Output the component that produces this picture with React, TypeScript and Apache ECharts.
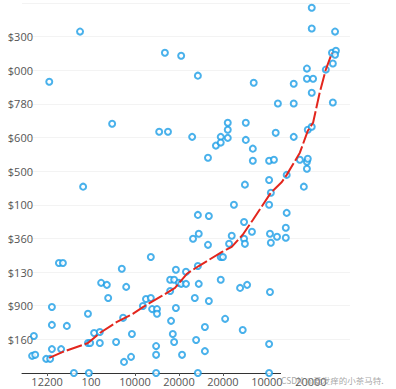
import React, { useEffect, useRef } from "react";
import * as echarts from "echarts";

const xTickLabels = ["12200", "100", "10000", "20000", "20000", "10000", "20000"];
const yTickLabels = ["", "$160", "$900", "$130", "$360", "$100", "$500", "$600", "$780", "$000", "$300", ""];

const pointsX = [
  0.75, 0.05, 2.68, 3.05, 3.43, 1.48, 2.55, 2.75, 3.3, 0.82,
  6.02, 6.02, 6.55, 6.48, 6.57, 6.55, 5.91, 6.34, 6.5, 4.7,
  5.61, 5.91, 6.05, 6.02, 5.25, 5.61, 6.5, 4.11, 4.52, 4.11,
  3.95, 4.11, 3.84, 3.95, 4.52, 5.2, 5.61, 5.93, 6.02, 3.66,
  4.68, 4.68, 5.05, 5.16, 5.75, 5.91, 5.93, 5.91, 4.5, 5.05,
  5.84, 5.45, 5.09, 3.43, 3.45, 3.32, 2.36, 0.27, 0.36, 1.7,
  2.93, 3.16, 3.43, 2.8, 2.89, 3.0, 3.05, 3.16, 3.45, 1.23,
  1.36, 1.8, 2.8, 1.39, 2.25, 2.36, 3.36, 2.18, 0.11, 2.39,
  2.5, 2.93, 2.5, 0.93, 1.73, 0.11, 0.45, 2.82, 1.07, 1.2,
  1.93, -0.3, 2.86, 2.89, 3.39, 1.57, 0.93, 0.98, 1.2, 0.11,
  0.32, 2.48, -0.34, -0.27, 2.48, 3.07, 1.91, -0.02, 0.07, 1.75,
  0.61, 0.95, 2.48, 3.43, 4.25, 5.05, 5.45, 3.68, 4.48, 3.66,
  4.2, 4.48, 4.5, 4.66, 5.07, 5.09, 5.23, 5.43, 5.43, 4.14,
  3.95, 4.0, 3.95, 4.39, 4.55, 5.07, 3.68, 4.05, 3.59, 4.45,
  5.05, 3.59, 5.05
];
const pointsY = [
  10.15, 8.66, 9.52, 9.43, 8.84, 7.41, 7.17, 7.17, 7.02, 5.54,
  10.86, 10.24, 10.15, 9.52, 9.58, 9.46, 9.05, 9.02, 9.2, 8.63,
  8.6, 8.75, 8.75, 8.33, 8.01, 8.01, 8.04, 7.44, 7.44, 7.23,
  7.02, 6.99, 6.76, 6.85, 6.93, 7.14, 7.02, 7.23, 7.32, 6.4,
  6.67, 6.31, 6.31, 6.34, 6.34, 6.28, 6.37, 6.07, 5.6, 5.74,
  5.54, 5.89, 5.36, 4.7, 4.14, 3.99, 3.45, 3.27, 3.27, 3.1,
  3.07, 3.01, 3.18, 2.77, 2.77, 2.68, 2.65, 2.65, 2.65, 2.68,
  2.62, 2.56, 2.44, 2.23, 2.2, 2.23, 2.23, 1.99, 1.96, 1.9,
  1.9, 1.93, 1.76, 1.76, 1.64, 1.43, 1.4, 1.55, 1.19, 1.22,
  1.16, 1.1, 1.16, 0.92, 0.98, 0.92, 0.89, 0.89, 0.89, 0.71,
  0.71, 0.8, 0.51, 0.54, 0.54, 0.54, 0.48, 0.42, 0.42, 0.33,
  0, 0, 0, 0, 5.0, 5.0, 4.76, 4.67, 4.49, 3.81,
  4.08, 3.99, 3.84, 4.2, 4.14, 3.87, 4.05, 4.32, 4.02, 3.84,
  3.45, 3.45, 2.77, 2.53, 2.62, 2.41, 2.14, 1.61, 1.37, 1.28,
  0.86, 0.65, 0
];

const trendX = [0.05, 0.36, 0.93, 1.2, 1.59, 1.95, 2.18, 2.61, 2.91, 3.18, 3.45, 3.98, 4.2, 4.45, 4.68, 5.09, 5.34, 5.45, 5.75, 5.93, 6.05, 6.2, 6.34, 6.48];
const trendY = [0.45, 0.63, 0.89, 1.19, 1.52, 1.76, 1.96, 2.29, 2.53, 2.95, 3.18, 3.6, 3.75, 4.11, 4.55, 5.36, 5.68, 5.89, 6.55, 7.2, 7.44, 8.33, 9.02, 9.52];

const watermark = "CSDN @爱发痒的小茶马特.";

export default function App() {
  const ref = useRef<HTMLDivElement>(null);
  useEffect(() => {
    if (!ref.current) return;
    const chart = echarts.init(ref.current, null, { renderer: "svg" });
    const scatterData = pointsX.map((x, i) => [x, pointsY[i]]);
    const lineData = trendX.map((x, i) => [x, trendY[i]]);
    chart.setOption({
      animation: false,
      backgroundColor: "#ffffff",
      grid: { left: 22, right: 46, top: 3, bottom: 16, containLabel: false },
      xAxis: {
        type: "value",
        min: -0.57,
        max: 6.89,
        axisLine: { show: true, lineStyle: { color: "#333", width: 1 } },
        axisTick: { show: true, length: 3, lineStyle: { color: "#555" }, customValues: [0, 1, 2, 3, 4, 5, 6] },
        splitLine: { show: false },
        axisLabel: {
          customValues: [0, 1, 2, 3, 4, 5, 6],
          formatter: (v: number) => xTickLabels[Math.round(v)] ?? "",
          color: "#555",
          fontSize: 11,
          fontFamily: "Open Sans",
          margin: 3,
        },
      },
      yAxis: {
        type: "value",
        min: 0,
        max: 11,
        interval: 1,
        axisLine: { show: false },
        axisTick: { show: false },
        splitLine: { show: true, lineStyle: { color: "#f3f3f3", width: 1 } },
        axisLabel: {
          formatter: (v: number) => yTickLabels[Math.round(v)] ?? "",
          color: "#555",
          fontSize: 11,
          fontFamily: "Open Sans",
          margin: -11,
        },
      },
      series: [
        {
          type: "line",
          data: lineData,
          symbol: "none",
          lineStyle: { color: "#e3261d", width: 2, type: [16, 3] },
          z: 3,
        },
        {
          type: "scatter",
          data: scatterData,
          symbol: "emptyCircle",
          symbolSize: 6,
          itemStyle: { color: "#1b9de6", borderColor: "#1b9de6", borderWidth: 2 },
          clip: false,
          z: 2,
        },
      ],
      graphic: [
        { type: "rect", left: 281, top: 370, shape: { width: 115, height: 6 }, style: { fill: "#ffffff" }, z: 10 },
        {
          type: "text",
          left: 281,
          top: 376,
          style: { text: watermark, fill: "rgba(150,150,150,0.85)", fontSize: 8.5, fontFamily: "Noto Sans CJK SC" },
          z: 11,
        },
      ],
    });
    return () => chart.dispose();
  }, []);
  return <div ref={ref} style={{ width: 396, height: 389, position: "absolute", left: 0, top: 0 }} />;
}
